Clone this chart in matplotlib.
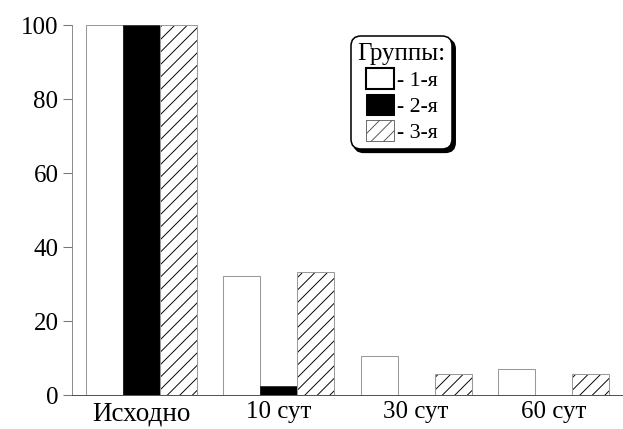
import matplotlib.pyplot as plt
import numpy as np
from matplotlib.patches import Patch, Shadow

# Data (percent of initial level)
categories = ['Исходно', '10 сут', '30 сут', '60 сут']
group1 = [100, 32.2, 10.5, 6.9]
group2 = [100, 2.4, 0, 0]
group3 = [100, 33.2, 5.6, 5.6]
legend_labels = ['- 1-я', '- 2-я', '- 3-я']
y_ticks = [0, 20, 40, 60, 80, 100]

plt.rcParams['font.family'] = ['Liberation Serif', 'DejaVu Serif']
plt.rcParams['hatch.linewidth'] = 0.9

DPI = 75
fig = plt.figure(figsize=(623 / DPI, 429 / DPI), dpi=DPI)
ax = fig.add_axes([72 / 623, 34 / 429, 551 / 623, 370 / 429])

x = np.arange(len(categories))
width = 0.27
edge = '#9a9a9a'

ax.bar(x - width, group1, width, color='white', edgecolor=edge, linewidth=1)
ax.bar(x, group2, width, color='black', edgecolor='black', linewidth=0.5)
# hatched bars: hatch in black, outline in grey drawn on top
ax.bar(x + width, group3, width, color='white', edgecolor='black', hatch='//', linewidth=0)
ax.bar(x + width, group3, width, fill=False, edgecolor=edge, linewidth=1)

ax.set_xlim(-0.506, 3.506)
ax.set_ylim(0, 100)
ax.set_yticks(y_ticks)
ax.set_xticks(x)
ax.set_xticklabels(categories)

ax.tick_params(axis='y', labelsize=24, length=8.5, width=1, color='#777777', pad=4.5)
ax.tick_params(axis='x', labelsize=24, length=0, pad=6)
ax.get_xticklabels()[0].set_fontsize(26)

ax.spines['top'].set_visible(False)
ax.spines['right'].set_visible(False)
ax.spines['left'].set_color('#777777')
ax.spines['bottom'].set_color('#333333')

# Legend with rounded frame and solid black shadow
handles = [
    Patch(facecolor='white', edgecolor='black', linewidth=2),
    Patch(facecolor='black', edgecolor='black'),
    Patch(facecolor='white', edgecolor='#555555', hatch='//', linewidth=0.8),
]
leg = ax.legend(handles, legend_labels, title='Группы:', loc='upper left',
                bbox_to_anchor=(0.506, 0.97), borderaxespad=0,
                fontsize=21, title_fontsize=24, handlelength=1.3,
                handleheight=1.1, handletextpad=0.12, labelspacing=0.14,
                borderpad=0.3, framealpha=1, fancybox=True)
frame = leg.get_frame()
frame.set_edgecolor('black')
frame.set_linewidth(1.5)
frame.set_boxstyle('round,pad=0,rounding_size=0.45')

fig.canvas.draw()
shadow = Shadow(leg.legendPatch, 3, -3, color='black', alpha=1)
shadow.set_zorder(4.9)
ax.add_artist(shadow)

fig.savefig('out.png', dpi=DPI)
